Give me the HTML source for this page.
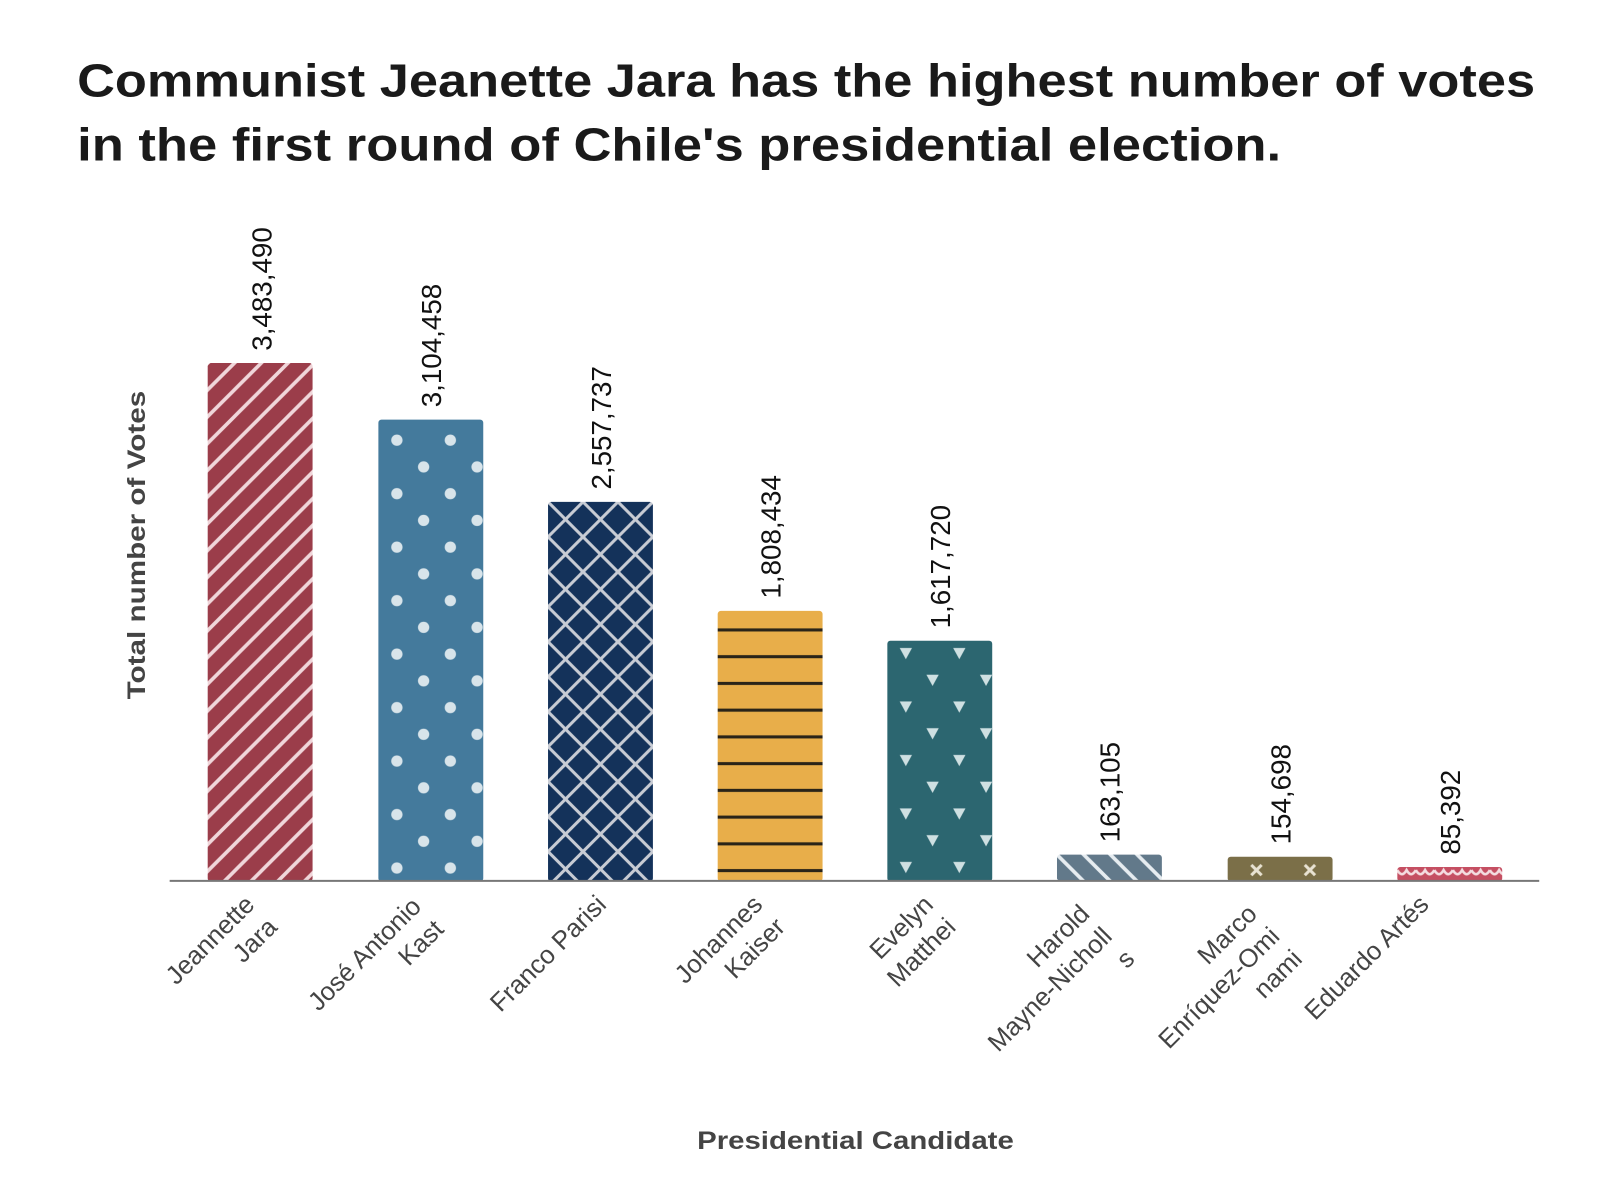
<!DOCTYPE html>
<html><head><meta charset="utf-8"><style>
html,body{margin:0;padding:0;background:#fff;}
svg{display:block;font-family:"Liberation Sans",sans-serif;}
</style></head><body>
<svg width="1604" height="1192" viewBox="0 0 1560 1159" preserveAspectRatio="none" xmlns="http://www.w3.org/2000/svg">
<defs>
<pattern id="p1" patternUnits="userSpaceOnUse" width="26" height="26" x="202" y="353">
<rect width="26" height="26" fill="#9b3d4a"/>
<path d="M-6,32 L32,-6 M-6,6 L6,-6 M20,32 L32,20" stroke="#f0d6da" stroke-width="3.5"/>
</pattern>
<pattern id="p2" patternUnits="userSpaceOnUse" width="52" height="52" x="360" y="402">
<rect width="52" height="52" fill="#447a9c"/>
<circle cx="26" cy="26" r="5.5" fill="#d8e4ea"/><circle cx="0" cy="0" r="5.5" fill="#d8e4ea"/><circle cx="52" cy="0" r="5.5" fill="#d8e4ea"/><circle cx="0" cy="52" r="5.5" fill="#d8e4ea"/><circle cx="52" cy="52" r="5.5" fill="#d8e4ea"/>
</pattern>
<pattern id="p3" patternUnits="userSpaceOnUse" width="34" height="34" x="533" y="488">
<rect width="34" height="34" fill="#14325a"/>
<path d="M0,0 L34,34 M34,0 L0,34" stroke="#c8ccd4" stroke-width="3"/>
</pattern>
<pattern id="p4" patternUnits="userSpaceOnUse" width="26" height="26" x="698" y="599">
<rect width="26" height="26" fill="#e8ae4a"/>
<rect y="12" width="26" height="3" fill="#2a2418"/>
</pattern>
<pattern id="p5" patternUnits="userSpaceOnUse" width="52" height="52" x="855" y="610">
<rect width="52" height="52" fill="#2c6670"/>
<path d="M20,20 L32,20 L26,31Z M-6,46 L6,46 L0,57Z M46,46 L58,46 L52,57Z M-6,-6 L6,-6 L0,5Z M46,-6 L58,-6 L52,5Z" fill="#cfe0e2"/>
</pattern>
<pattern id="p6" patternUnits="userSpaceOnUse" width="26" height="26" x="1028" y="831">
<rect width="26" height="26" fill="#62798a"/>
<path d="M-6,-6 L32,32 M20,-6 L32,6 M-6,20 L6,32" stroke="#e6ecf0" stroke-width="3.5"/>
</pattern>
<pattern id="p7" patternUnits="userSpaceOnUse" width="52" height="26" x="1196" y="833">
<rect width="52" height="26" fill="#7b6f48"/>
<path d="M21,8 L31,18 M31,8 L21,18" stroke="#e8e2d2" stroke-width="3"/>
</pattern>
<pattern id="p8" patternUnits="userSpaceOnUse" width="18" height="20" x="1359" y="842">
<rect width="18" height="20" fill="#c54f62"/>
<path d="M0,4 Q4.5,12 9,4 Q13.5,12 18,4" stroke="#f4dde1" stroke-width="2.5" fill="none"/>
</pattern>
</defs>

<text x="75" y="94" font-size="45" font-weight="bold" fill="#1a1a1a" textLength="1418" lengthAdjust="spacingAndGlyphs">Communist Jeanette Jara has the highest number of votes</text>
<text x="75" y="156" font-size="45" font-weight="bold" fill="#1a1a1a" textLength="1171" lengthAdjust="spacingAndGlyphs">in the first round of Chile's presidential election.</text>

<rect x="202" y="353" width="102" height="504" rx="3" fill="url(#p1)"/>
<rect x="368" y="408" width="102" height="449" rx="3" fill="url(#p2)"/>
<rect x="533" y="488" width="102" height="369" rx="3" fill="url(#p3)"/>
<rect x="698" y="594" width="102" height="263" rx="3" fill="url(#p4)"/>
<rect x="863" y="623" width="102" height="234" rx="3" fill="url(#p5)"/>
<rect x="1028" y="831" width="102" height="26" rx="3" fill="url(#p6)"/>
<rect x="1194" y="833" width="102" height="24" rx="3" fill="url(#p7)"/>
<rect x="1359" y="843" width="102" height="14" rx="3" fill="url(#p8)"/>

<line x1="165" y1="856.5" x2="1497" y2="856.5" stroke="#777" stroke-width="2"/>

<g font-size="27" fill="#111">
<text transform="translate(264,341) rotate(-90)">3,483,490</text>
<text transform="translate(429,396) rotate(-90)">3,104,458</text>
<text transform="translate(594,476) rotate(-90)">2,557,737</text>
<text transform="translate(759,582) rotate(-90)">1,808,434</text>
<text transform="translate(924,611) rotate(-90)">1,617,720</text>
<text transform="translate(1089,819) rotate(-90)">163,105</text>
<text transform="translate(1255,821) rotate(-90)">154,698</text>
<text transform="translate(1420,831) rotate(-90)">85,392</text>
</g>

<g font-size="25" fill="#444" text-anchor="end">
<g transform="translate(249,881) rotate(-45)"><text>Jeannette</text><text y="31">Jara</text></g>
<g transform="translate(411,883) rotate(-45)"><text>José Antonio</text><text y="31">Kast</text></g>
<g transform="translate(591,881) rotate(-45)"><text>Franco Parisi</text></g>
<g transform="translate(743,881) rotate(-45)"><text>Johannes</text><text y="31">Kaiser</text></g>
<g transform="translate(909,881) rotate(-45)"><text>Evelyn</text><text y="31">Matthei</text></g>
<g transform="translate(1061,890) rotate(-45)"><text>Harold</text><text y="31">Mayne-Nicholl</text><text y="62">s</text></g>
<g transform="translate(1224,890) rotate(-45)"><text>Marco</text><text y="31">Enríquez-Omi</text><text y="62">nami</text></g>
<g transform="translate(1391,881) rotate(-45)"><text>Eduardo Artés</text></g>
</g>

<text transform="translate(141,530) rotate(-90)" text-anchor="middle" font-size="24" font-weight="bold" fill="#444" textLength="300" lengthAdjust="spacingAndGlyphs">Total number of Votes</text>
<text x="832" y="1117" text-anchor="middle" font-size="24" font-weight="bold" fill="#444" textLength="308" lengthAdjust="spacingAndGlyphs">Presidential Candidate</text>
</svg>
</body></html>
